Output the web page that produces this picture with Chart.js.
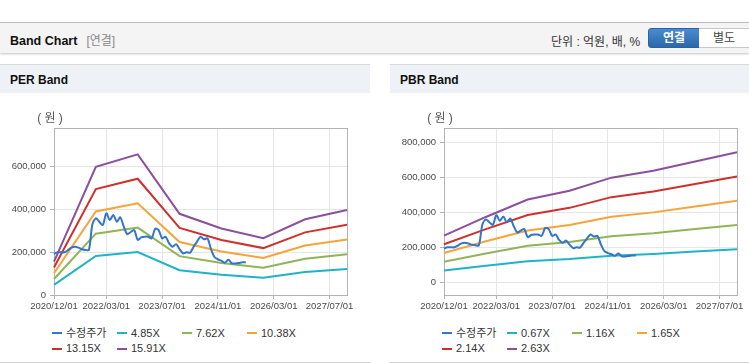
<!DOCTYPE html>
<html lang="ko">
<head>
<meta charset="utf-8">
<script src="https://cdn.jsdelivr.net/npm/chart.js@4.4.1/dist/chart.umd.min.js"></script>
<style>
  body { margin: 0; width: 749px; height: 364px; overflow: hidden; background: #fff; position: relative;
         font-family: "Liberation Sans", Arial, "Noto Sans CJK KR", sans-serif; }
  .abs { position: absolute; }
  .topbar { left: 0; top: 22px; width: 749px; height: 30px; background: #f4f4f4;
            border-top: 1px solid #bdbdbd; box-shadow: 0 1px 2px #c4c4c4; }
  .title { left: 10px; top: 31px; font-size: 12.5px; font-weight: bold; color: #111; }
  .title span { color: #888; font-weight: normal; margin-left: 9px; font-size: 12px; }
  .unit { left: 551px; top: 32px; font-size: 12px; color: #333; }
  .btn { top: 28px; height: 18px; width: 50px; font-size: 12px; line-height: 18px; text-align: center; }
  .on { left: 648px; background: linear-gradient(#4a8bd0, #2b68aa); border: 1px solid #2a62a0;
        border-radius: 3px 0 0 3px; color: #fff; font-weight: bold; }
  .off { left: 699px; background: #fff; border: 1px solid #c8c8c8; border-left: none; color: #444; }
  .panel { top: 64px; height: 297px; border-top: 1px solid #dadada; border-bottom: 1px solid #d3d3d3; }
  .head { height: 28px; line-height: 30px; background: #eef2f7; padding-left: 10px;
          font-size: 12px; font-weight: bold; color: #111; }
  .panel canvas { position: absolute; left: 0; top: 28px; }
  .legend { position: absolute; left: 52px; top: 259px; width: 264px; font-size: 11px; color: #333; }
  .legend div { display: inline-flex; align-items: center; width: 65px; height: 13px; line-height: 13px; white-space: nowrap; }
  .legend i { display: inline-block; width: 10px; height: 2px; margin-right: 4px; }
</style>
</head>
<body>
<div class="abs topbar"></div>
<div class="abs title">Band Chart<span>[연결]</span></div>
<div class="abs unit">단위 : 억원, 배, %</div>
<div class="abs btn on">연결</div>
<div class="abs btn off">별도</div>

<div class="abs panel" style="left:0;width:370px">
  <div class="head">PER Band</div>
  <canvas id="perChart" width="370" height="225"></canvas>
  <div class="legend" id="perLegend"></div>
</div>
<div class="abs panel" style="left:390px;width:359px">
  <div class="head">PBR Band</div>
  <canvas id="pbrChart" width="359" height="225"></canvas>
  <div class="legend" id="pbrLegend"></div>
</div>

<script>
// ==========================================
// Data
// ==========================================

// one category per month, 2020/12 .. 2027/12
const months = [];
for (let i = 0; i <= 84; i++) {
   const d = new Date(2020, 11 + i, 1);
   months.push(d.getFullYear() + "/" + String(d.getMonth() + 1).padStart(2, "0") + "/01");
}

const tickLabels = ["2020/12/01", "2022/03/01", "2023/07/01", "2024/11/01", "2026/03/01", "2027/07/01"];
const bandMonths = ["2020/12/01", "2021/12/01", "2022/12/01", "2023/12/01", "2024/12/01", "2025/12/01", "2026/12/01", "2027/12/01"];

// adjusted close, monthly from 2020/12
const price = [192000, 200000, 200000, 200000, 210000, 222000, 226000, 222000, 214000, 211000,
   211000, 330000, 359000, 343000, 328000, 383000, 351000, 375000, 343000, 364000,
   320000, 285000, 295000, 304000, 258000, 270000, 273000, 273000, 265000, 310000,
   304000, 265000, 273000, 242000, 226000, 238000, 215000, 195000, 200000, 198000,
   225000, 250000, 273000, 261000, 265000, 215000, 178000, 167000, 160000, 151000,
   165000, 148000, 148000, 150000, 153000, 153000];

const perLabels = ["4.85X", "7.62X", "10.38X", "13.15X", "15.91X"];
const per485 = [47500, 182800, 200800, 115900, 95100, 81000, 108200, 121300];
const per762 = [74700, 287300, 315500, 182100, 149400, 127300, 169900, 190500];
const per1038 = [101700, 391300, 429700, 248100, 203400, 173300, 231500, 259500];
const per1315 = [128900, 495800, 544400, 314300, 257700, 219600, 293200, 328800];
const per1591 = [155900, 599800, 658700, 380200, 311800, 265700, 354800, 397800];

const pbrLabels = ["0.67X", "1.16X", "1.65X", "2.14X", "2.63X"];
const pbr067 = [68000, 95000, 120300, 133000, 152100, 162000, 175500, 188900];
const pbr116 = [117700, 164500, 208200, 230300, 263300, 280500, 303900, 327100];
const pbr165 = [167500, 234000, 296200, 327500, 374600, 399000, 432300, 465300];
const pbr214 = [217200, 303500, 384100, 424800, 485800, 517500, 560700, 603500];
const pbr263 = [266900, 372900, 472100, 522100, 597000, 635900, 689100, 741700];

const perTicks = [0, 200000, 400000, 600000];
const pbrTicks = [0, 200000, 400000, 600000, 800000];

// ==========================================
// Chart
// ==========================================

const bandColors = ["#1fb3c8", "#8fb556", "#f5a43a", "#d0302c", "#8d4f9d"];
const priceColor = "#3375c8";

Chart.defaults.font.family = '"Liberation Sans", Arial, sans-serif';
Chart.defaults.font.size = 9.5;
Chart.defaults.color = "#4a4a4a";

const frame = {
   id: "frame",
   beforeDatasetsDraw(chart) {
      const { ctx, chartArea: a } = chart;
      ctx.save();
      ctx.strokeStyle = "#b4b4b4";
      ctx.lineWidth = 1;
      ctx.strokeRect(Math.round(a.left) + 0.5, Math.round(a.top) + 0.5,
         Math.round(a.right - a.left), Math.round(a.bottom - a.top));
      ctx.restore();
   },
   afterDraw(chart) {
      const { ctx, chartArea: a } = chart;
      ctx.save();
      ctx.fillStyle = "#555";
      ctx.font = '12px "Liberation Sans", Arial, "Noto Sans CJK KR", sans-serif';
      ctx.textAlign = "center";
      ctx.fillText("( 원 )", a.left - 4, a.top - 6);
      ctx.restore();
   }
};

function bandSet(label, values, color) {
   return {
      label: label,
      data: bandMonths.map((m, i) => ({ x: m, y: values[i] })),
      borderColor: color,
      backgroundColor: color,
      borderWidth: 2,
      pointRadius: 0,
      tension: 0
   };
}

function makeChart(id, legendId, labels, bands, yMin, yMax, yTicks, rightPad) {
   const datasets = [{
      label: "수정주가",
      data: price.map((v, i) => ({ x: months[i], y: v })),
      borderColor: priceColor,
      backgroundColor: priceColor,
      borderWidth: 2,
      pointRadius: 0,
      tension: 0.3
   }];
   bands.forEach((b, i) => datasets.push(bandSet(labels[i], b, bandColors[i])));

   const chart = new Chart(document.getElementById(id), {
      type: "line",
      data: { labels: months, datasets: datasets },
      options: {
         responsive: false,
         animation: false,
         layout: { padding: { top: 35, right: rightPad, left: 0, bottom: 0 } },
         plugins: { legend: { display: false }, tooltip: { enabled: false } },
         scales: {
            x: {
               ticks: { autoSkip: false, maxRotation: 0, padding: 2 },
               grid: { color: "#e6e6e6", tickColor: "#b4b4b4", tickLength: 4 },
               border: { color: "#b4b4b4" },
               afterBuildTicks: (scale) => {
                  scale.ticks = scale.ticks.filter((t) => tickLabels.includes(months[t.value]));
               },
               afterFit: (scale) => { scale.height = 23; }
            },
            y: {
               min: yMin,
               max: yMax,
               ticks: { padding: 4, callback: (v) => v.toLocaleString("en-US") },
               grid: { color: "#e6e6e6", tickColor: "#b4b4b4", tickLength: 4 },
               border: { color: "#b4b4b4" },
               afterBuildTicks: (scale) => {
                  scale.ticks = yTicks.map((v) => ({ value: v }));
               },
               afterFit: (scale) => { scale.width = 54; }
            }
         }
      },
      plugins: [frame]
   });

   // legend in fixed columns
   const box = document.getElementById(legendId);
   chart.data.datasets.forEach((ds) => {
      const item = document.createElement("DIV");
      const mark = document.createElement("I");
      mark.style.background = ds.borderColor;
      item.append(mark);
      item.append(document.createTextNode(ds.label));
      box.append(item);
   });
   return chart;
}

makeChart("perChart", "perLegend", perLabels, [per485, per762, per1038, per1315, per1591], 0, 782000, perTicks, 23);
makeChart("pbrChart", "pbrLegend", pbrLabels, [pbr067, pbr116, pbr165, pbr214, pbr263], -72000, 880000, pbrTicks, 12);
</script>
</body>
</html>
